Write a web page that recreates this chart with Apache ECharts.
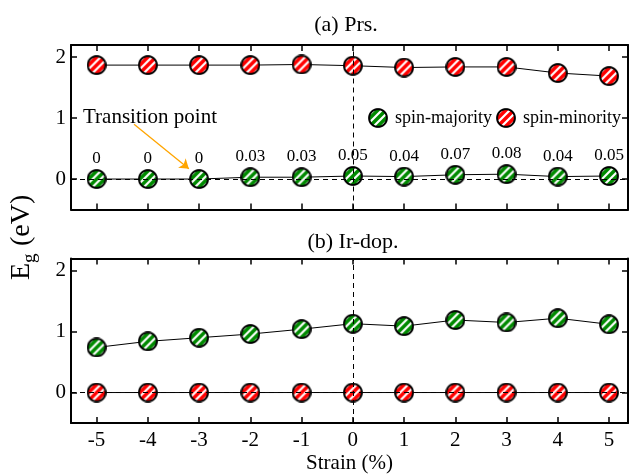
<!DOCTYPE html>
<html><head><meta charset="utf-8">
<script src="https://cdn.jsdelivr.net/npm/echarts@6/dist/echarts.min.js"></script>
<style>html,body{margin:0;padding:0;background:#fff}#c{width:633px;height:475px}</style>
</head><body><div id="c"></div>
<script>
const strain = [-5,-4,-3,-2,-1,0,1,2,3,4,5];
const xTicks = [-5,-4,-3,-2,-1,0,1,2,3,4,5];
const yTicks = [0,1,2];
const prsMajority = [0,0,0,0.03,0.03,0.05,0.04,0.07,0.08,0.04,0.05];
const prsMinority = [1.87,1.87,1.87,1.87,1.88,1.86,1.83,1.84,1.84,1.74,1.69];
const irMajority = [0.74,0.84,0.90,0.96,1.04,1.13,1.09,1.19,1.15,1.22,1.12];
const irMinority = [0,0,0,0,0,0,0,0,0,0,0];
const titles = ['(a) Prs.','(b) Ir-dop.'];
const seriesNames = ['spin-majority','spin-minority'];

const FONT = '"Liberation Serif","DejaVu Serif",serif';
function markerURL(color){
  const S=40, c=document.createElement('canvas'); c.width=S; c.height=S;
  const g=c.getContext('2d');
  g.save(); g.beginPath(); g.arc(S/2,S/2,S/2-2,0,Math.PI*2); g.clip();
  g.fillStyle='#fff'; g.fillRect(0,0,S,S);
  g.strokeStyle=color; g.lineWidth=7; g.beginPath();
  const p=16;
  for(let k=-5;k<=5;k++){ g.moveTo(-S+k*p, 2*S); g.lineTo(2*S+k*p, -S); }
  g.stroke(); g.restore();
  g.beginPath(); g.arc(S/2,S/2,S/2-2.2,0,Math.PI*2); g.lineWidth=4; g.strokeStyle='#000'; g.stroke();
  return 'image://'+c.toDataURL();
}
const greenSym = markerURL('#008a00');
const redSym = markerURL('#ff0000');
const pairs = ys => strain.map((x,i)=>[x,ys[i]]);

const XMIN=-5.5, XMAX=5.37, YMIN=-0.5, YMAX=2.2;
const grids=[{left:71,top:45,width:557,height:164.5,outerBoundsMode:'none',containLabel:false},
             {left:71,top:258.5,width:557,height:164.5,outerBoundsMode:'none',containLabel:false}];
function xAx(gi,pos,labels){
  return {type:'value',gridIndex:gi,position:pos,min:XMIN,max:XMAX,
    axisLine:{show:true,onZero:false,lineStyle:{color:'#000',width:2}},
    axisTick:{show:true,inside:true,length:6,lineStyle:{color:'#000',width:1.5},customValues:xTicks},
    axisLabel:{show:labels,customValues:xTicks,color:'#000',fontFamily:FONT,fontSize:21,margin:7},
    splitLine:{show:false},
    name: labels?'Strain (%)':'', nameLocation:'middle', nameGap:30,
    nameTextStyle:{color:'#000',fontFamily:FONT,fontSize:21}};
}
function yAx(gi,pos,labels){
  return {type:'value',gridIndex:gi,position:pos,min:YMIN,max:YMAX,
    axisLine:{show:true,onZero:false,lineStyle:{color:'#000',width:2}},
    axisTick:{show:true,inside:true,length:6,lineStyle:{color:'#000',width:1.5},customValues:yTicks},
    axisLabel:{show:labels,customValues:yTicks,color:'#000',fontFamily:FONT,fontSize:21,margin:5},
    splitLine:{show:false}};
}
function pts(name,ys,sym,color,xi,yi,extra){
  return Object.assign({type:'line',name:name,xAxisIndex:xi,yAxisIndex:yi,data:pairs(ys),
    symbol:sym,symbolSize:20,showAllSymbol:true,z:3,
    lineStyle:{color:'#000',width:1},
    itemStyle:{color:color},
    emphasis:{disabled:true},animation:false},extra||{});
}
function dashSeries(xi,yi){
  return {type:'line',xAxisIndex:xi,yAxisIndex:yi,data:[],z:5,silent:true,animation:false,
    markLine:{silent:true,symbol:'none',animation:false,label:{show:false},
      lineStyle:{color:'#000',width:1,type:[5,4]},
      data:[{yAxis:0},{xAxis:0}]}};
}
const option={
  animation:false,
  backgroundColor:'#fff',
  grid:grids,
  xAxis:[xAx(0,'bottom',false),xAx(0,'top',false),xAx(1,'bottom',true),xAx(1,'top',false)],
  yAxis:[yAx(0,'left',true),yAx(0,'right',false),yAx(1,'left',true),yAx(1,'right',false)],
  legend:{left:363,top:103,orient:'horizontal',itemWidth:20,itemHeight:20,itemGap:4,
    data:[{name:seriesNames[0],icon:greenSym},{name:seriesNames[1],icon:redSym}],selectedMode:false,
    textStyle:{color:'#000',fontFamily:FONT,fontSize:18,padding:[0,0,0,2]}},
  series:[
    pts(seriesNames[0],prsMajority,greenSym,'#008a00',0,0,{
      label:{show:true,position:'top',distance:2,color:'#000',fontFamily:FONT,fontSize:17,
        formatter:p=>String(p.value[1])}}),
    pts(seriesNames[1],prsMinority,redSym,'#ff0000',0,0),
    dashSeries(0,0),
    {type:'line',xAxisIndex:0,yAxisIndex:0,data:[],z:6,silent:true,animation:false,
      markLine:{silent:true,animation:false,symbol:['none','arrow'],symbolSize:9,
        label:{show:false},lineStyle:{color:'#ffa500',width:1.3,type:'solid'},
        data:[[{coord:[-4.27,0.90]},{coord:[-3.2,0.17]}]]}},
    pts(seriesNames[0],irMajority,greenSym,'#008a00',2,2),
    pts(seriesNames[1],irMinority,redSym,'#ff0000',2,2),
    dashSeries(2,2)
  ],
  graphic:[
    {type:'text',x:346,y:25,style:{text:titles[0],font:'22px '+FONT,fill:'#000',align:'center',verticalAlign:'middle'}},
    {type:'text',x:353,y:242,style:{text:titles[1],font:'22px '+FONT,fill:'#000',align:'center',verticalAlign:'middle'}},
    {type:'text',x:83,y:117,style:{text:'Transition point',font:'21px '+FONT,fill:'#000',align:'left',verticalAlign:'middle'}},
    {type:'group',x:22,y:280,rotation:Math.PI/2,children:[
      {type:'text',x:0,y:0,style:{text:'E',font:'28px '+FONT,fill:'#000',align:'left',verticalAlign:'middle'}},
      {type:'text',x:17,y:8,style:{text:'g',font:'19px '+FONT,fill:'#000',align:'left',verticalAlign:'middle'}},
      {type:'text',x:34,y:0,style:{text:'(eV)',font:'28px '+FONT,fill:'#000',align:'left',verticalAlign:'middle'}}
    ]}
  ]
};
const chart=echarts.init(document.getElementById('c'),null,{renderer:'canvas'});
chart.setOption(option);
</script></body></html>
